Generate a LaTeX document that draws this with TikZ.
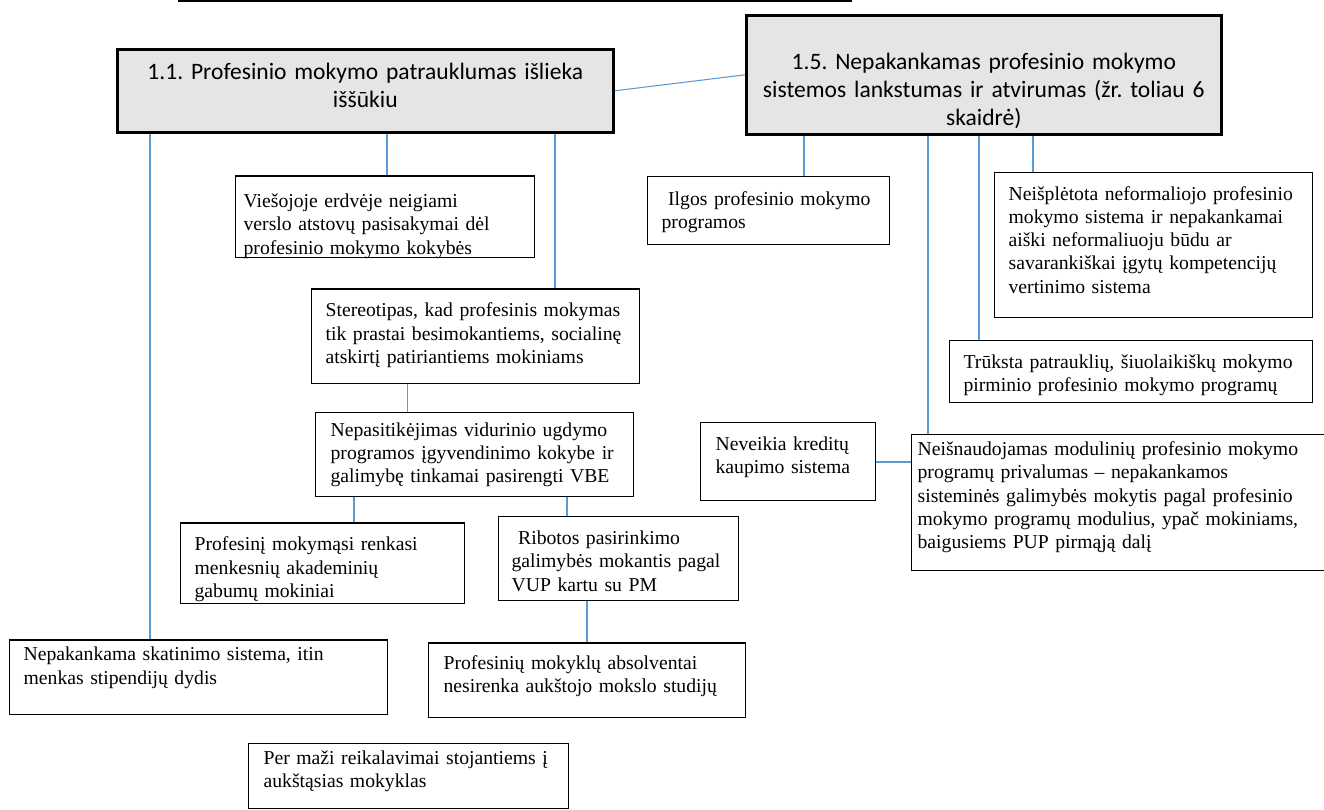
\documentclass[tikz,border=0pt]{standalone}
\usepackage{fontspec}
\setmainfont{Liberation Serif}
\newfontfamily\hdrfont{Carlito}
\usetikzlibrary{positioning,calc}
\definecolor{linkblue}{RGB}{91,155,213}
\newcommand{\fst}[1][0.56cm]{\rule{0pt}{#1}}
\frenchspacing
\tikzset{
	cell/.style={draw, line width=0.7pt, anchor=north west, align=left, inner xsep=0.28cm, inner ysep=0pt, font=\fontsize{11.2pt}{13.2pt}\selectfont},
	head/.style={draw, line width=1.5pt, fill=black!10, anchor=north west, align=center, inner xsep=0.3cm, inner ysep=0pt, font=\hdrfont\fontsize{13.4pt}{15.9pt}\selectfont},
	link/.style={draw=linkblue, line width=0.6pt}
}
\begin{document}
\begin{tikzpicture}
	\useasboundingbox (0,0) rectangle (26.48,-16.2);
	\draw[line width=0.8pt] (3.56,-0.02) -- (17.04,-0.02);
	\node[head, text width=9.32cm, text depth=1.054cm] (h11) at (2.32,-0.96) {\fst[0.606cm]1.1. Profesinio mokymo patrauklumas išlieka\\iššūkiu};
	\node[head, inner xsep=0.2cm, text width=9.1cm, text depth=1.294cm] (h15) at (14.9,-0.28) {\fst[1.086cm]1.5. Nepakankamas profesinio mokymo\\sistemos lankstumas ir atvirumas (žr. toliau 6\\skaidrė)};
	\node[cell, inner xsep=0.16cm, text width=5.66cm, text depth=1.0cm] (vie) at (4.7,-3.51) {\fst[0.63cm]Viešojoje erdvėje neigiami\\verslo atstovų pasisakymai dėl\\profesinio mokymo kokybės};
	\node[cell, text width=6.0cm, text depth=1.334cm] (ste) at (6.22,-5.766) {\fst Stereotipas, kad profesinis mokymas\\tik prastai besimokantiems, socialinę\\atskirtį patiriantiems mokiniams};
	\node[cell, inner xsep=0.3cm, text width=5.76cm, text depth=1.196cm] (nep) at (6.3,-8.234) {\fst[0.48cm]Nepasitikėjimas vidurinio ugdymo\\programos įgyvendinimo kokybe ir\\galimybę tinkamai pasirengti VBE};
	\node[cell, text width=5.12cm, text depth=1.054cm] (pro) at (3.6,-10.446) {\fst Profesinį mokymąsi renkasi\\menkesnių akademinių\\gabumų mokiniai};
	\node[cell, inner xsep=0.26cm, text width=4.28cm, text depth=1.12cm] (rib) at (9.96,-10.32) {\fst~Ribotos pasirinkimo\\galimybės mokantis pagal\\VUP kartu su PM};
	\node[cell, inner xsep=0.3cm, text width=5.74cm, text depth=0.96cm] (pmk) at (8.56,-12.846) {\fst[0.534cm]Profesinių mokyklų absolventai\\nesirenka aukštojo mokslo studijų};
	\node[cell, text width=7.0cm, text depth=1.074cm] (ska) at (0.18,-12.786) {\fst[0.42cm]Nepakankama skatinimo sistema, itin\\menkas stipendijų dydis};
	\node[cell, inner xsep=0.3cm, text width=5.8cm, text depth=0.88cm] (per) at (4.96,-14.86) {\fst[0.42cm]Per maži reikalavimai stojantiems į\\aukštąsias mokyklas};
	\node[cell, text width=4.28cm, text depth=0.78cm] (ilg) at (12.94,-3.52) {\fst[0.57cm]~Ilgos profesinio mokymo\\programos};
	\node[cell, text width=5.8cm, text depth=2.346cm] (nef) at (19.88,-3.434) {\fst Neišplėtota neformaliojo profesinio\\mokymo sistema ir nepakankamai\\aiški neformaliuoju būdu ar\\savarankiškai įgytų kompetencijų\\vertinimo sistema};
	\node[cell, text width=6.7cm, text depth=0.68cm] (tru) at (18.98,-6.8) {\fst Trūksta patrauklių, šiuolaikiškų mokymo\\pirminio profesinio mokymo programų};
	\node[cell, inner xsep=0.3cm, text width=2.9cm, text depth=1.0cm] (nev) at (14.0,-8.44) {\fst Neveikia kreditų\\kaupimo sistema};
	\node[cell, inner xsep=0.12cm, text width=8.34cm, text depth=2.3cm] (mod) at (18.22,-8.68) {\fst[0.42cm]Neišnaudojamas modulinių profesinio mokymo\\programų privalumas – nepakankamos\\sisteminės galimybės mokytis pagal profesinio\\mokymo programų modulius, ypač mokiniams,\\baigusiems PUP pirmąją dalį};
	\draw[link] (h11.east) -- (h15.west);
	\draw[link] (h11.south -| 3,0) -- (ska.north -| 3,0);
	\draw[link] (h11.south -| 7.74,0) -- (vie.north -| 7.74,0);
	\draw[link] (h11.south -| 11.1,0) -- (ste.north -| 11.1,0);
	\draw[link] (ste.south -| 8.15,0) -- (nep.north -| 8.15,0);
	\draw[link] (nep.south -| 7.08,0) -- (pro.north -| 7.08,0);
	\draw[link] (nep.south -| 11.34,0) -- (rib.north -| 11.34,0);
	\draw[link] (rib.south -| 11.74,0) -- (pmk.north -| 11.74,0);
	\draw[link] (h15.south -| 16.08,0) -- (ilg.north -| 16.08,0);
	\draw[link] (h15.south -| 18.56,0) -- (mod.north -| 18.56,0);
	\draw[link] (h15.south -| 19.58,0) -- (tru.north -| 19.58,0);
	\draw[link] (h15.south -| 20.66,0) -- (nef.north -| 20.66,0);
	\draw[link] (nev.east |- 0,-9.24) -- (mod.west |- 0,-9.24);
\end{tikzpicture}
\end{document}
